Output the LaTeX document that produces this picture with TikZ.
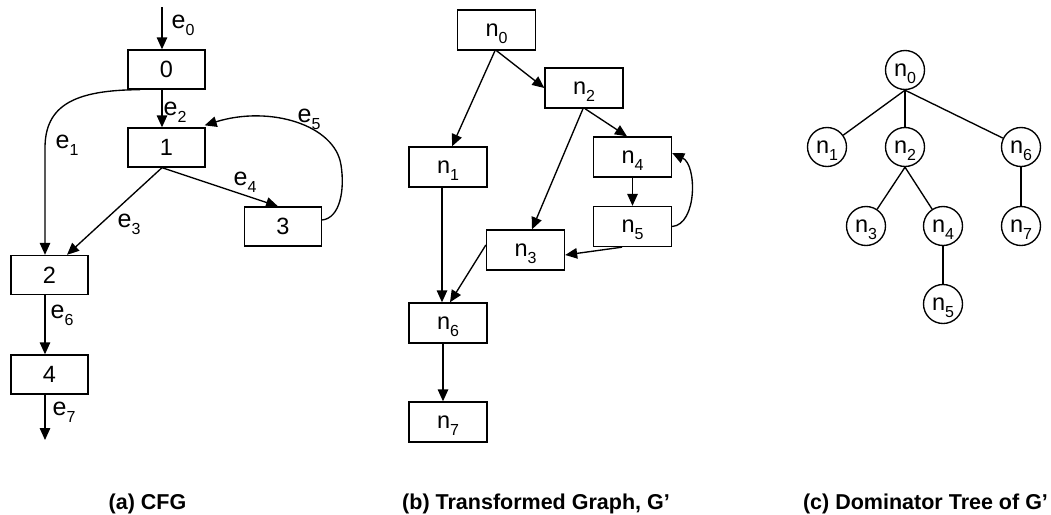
\documentclass[tikz,border=0pt]{standalone}
\usepackage{fontspec}
\setmainfont{Liberation Sans}
\usetikzlibrary{arrows.meta,calc}
% lowered index that does not change the height of the label
\newcommand\lowsub[1]{\smash{\raisebox{-7pt}{\fontsize{16}{16}\selectfont #1}}}
\newcommand\ename[1]{e\lowsub{#1}}
\newcommand\nname[1]{n\lowsub{#1}}

\begin{document}
\begin{tikzpicture}[x=1pt,y=-1pt,
  line width=1.35pt,
  font=\fontsize{23.5}{23.5}\selectfont,
  box/.style={draw, rectangle, minimum width=77pt, minimum height=39pt, inner sep=0pt},
  gbox/.style={draw, rectangle, minimum width=78pt, minimum height=40pt, inner sep=0pt},
  tnode/.style={draw, circle, minimum size=39pt, inner sep=0pt},
  elabel/.style={anchor=base west, inner sep=0pt, font=\fontsize{25}{25}\selectfont},
  arr/.style={-{Triangle[length=12pt,width=10.5pt]}},
  caption/.style={anchor=base, inner sep=0pt, font=\fontsize{21.5}{21.5}\selectfont\bfseries}]

\useasboundingbox (0,0) rectangle (1051,514);

% ---------- (a) control flow graph ----------
\node[box] (c0) at (166.5,69.5) {0};
\node[box] (c1) at (166.5,147.5) {1};
\node[box] (c3) at (283,226.5) {3};
\node[box] (c2) at (49.5,275) {2};
\node[box] (c4) at (49.5,374.5) {4};

\coordinate (cin) at (162,7);
\coordinate (cout) at (45,440);
\coordinate (e1bend) at (45,148);
\coordinate (e5side) at (341,165);

\draw[arr] (cin) -- ($(c0.north)+(-4.5,0)$);
\draw[arr] ($(c0.south)+(-4.5,0)$) -- ($(c1.north)+(-4.5,0)$);
\draw[arr] ($(c0.south)+(-26.5,0)$) .. controls (75,90) and (45,105) .. (e1bend) -- ($(c2.north)+(-4.5,0)$);
\draw[arr] ($(c1.south)+(-4.5,0)$) -- ($(c2.north)+(17.5,0)$);
\draw[arr] ($(c1.south)+(-4.5,0)$) -- ($(c3.north)+(-5,0)$);
\draw[arr] ($(c3.east)+(0,-6.5)$) .. controls (340,218) and (345,190) .. (e5side)
           .. controls (335,125) and (270,105) .. ($(c1.north east)+(-1,-2)$);
\draw[arr] ($(c2.south)+(-4.5,0)$) -- ($(c4.north)+(-4.5,0)$);
\draw[arr] ($(c4.south)+(-4.5,0)$) -- (cout);

\node[elabel] (l0) at (171,28.5) {\ename{0}};
\node[elabel] (l2) at (163,115) {\ename{2}};
\node[elabel] (l1) at (55,148) {\ename{1}};
\node[elabel] (l3) at (117,227) {\ename{3}};
\node[elabel] (l4) at (233,185) {\ename{4}};
\node[elabel] (l5) at (297,122) {\ename{5}};
\node[elabel] (l6) at (50,318) {\ename{6}};
\node[elabel] (l7) at (52,415) {\ename{7}};

% ---------- (b) transformed graph ----------
\node[gbox] (g0) at (496.5,30) {\nname{0}};
\node[gbox] (g2) at (584,88) {\nname{2}};
\node[gbox] (g4) at (632.5,157) {\nname{4}};
\node[gbox] (g5) at (632.5,226.5) {\nname{5}};
\node[gbox] (g1) at (448,167) {\nname{1}};
\node[gbox] (g3) at (525.5,250) {\nname{3}};
\node[gbox] (g6) at (448,323) {\nname{6}};
\node[gbox] (g7) at (448,422) {\nname{7}};

\draw[arr] ($(g0.south)+(-1.5,0)$) -- ($(g1.north)+(4,0)$);
\draw[arr] (g0.south) -- (g2.west);
\draw[arr] ($(g2.south)+(1,0)$) -- ($(g4.north)+(-5.5,0)$);
\draw[arr] ($(g2.south)+(-1,0)$) -- ($(g3.north)+(6.5,0)$);
\draw[arr] (g4.south) -- (g5.north);
\draw[arr] (g5.east) .. controls +(25,-2) and +(25,12) .. ($(g4.east)+(0,-4)$);
\draw[arr] ($(g5.south)+(-10.5,0)$) -- ($(g3.east)+(0,5)$);
\draw[arr] ($(g1.south)+(-6,0)$) -- ($(g6.north)+(-6,0)$);
\draw[arr] ($(g3.west)+(0,-5)$) -- ($(g6.north)+(2,0)$);
\draw[arr] ($(g6.south)+(-5,0)$) -- ($(g7.north)+(-5,0)$);

% ---------- (c) dominator tree ----------
\node[tnode] (t0) at (905,70) {\nname{0}};
\node[tnode] (t1) at (827,147) {\nname{1}};
\node[tnode] (t2) at (905,147) {\nname{2}};
\node[tnode] (t6) at (1021,147) {\nname{6}};
\node[tnode] (t3) at (866,226) {\nname{3}};
\node[tnode] (t4) at (943,226) {\nname{4}};
\node[tnode] (t7) at (1021,226) {\nname{7}};
\node[tnode] (t5) at (943,304) {\nname{5}};

\draw (t0.south) -- (t1);
\draw (t0.south) -- (t2);
\draw (t0.south) -- (t6);
\draw (t2.south) -- (t3);
\draw (t2.south) -- (t4);
\draw (t4) -- (t5);
\draw (t6) -- (t7);

% ---------- captions ----------
\node[caption] (capa) at (147.5,509) {(a) CFG};
\node[caption] (capb) at (536,509) {(b) Transformed Graph, G’};
\node[caption] (capc) at (925.5,509) {(c) Dominator Tree of G’};
\end{tikzpicture}
\end{document}
